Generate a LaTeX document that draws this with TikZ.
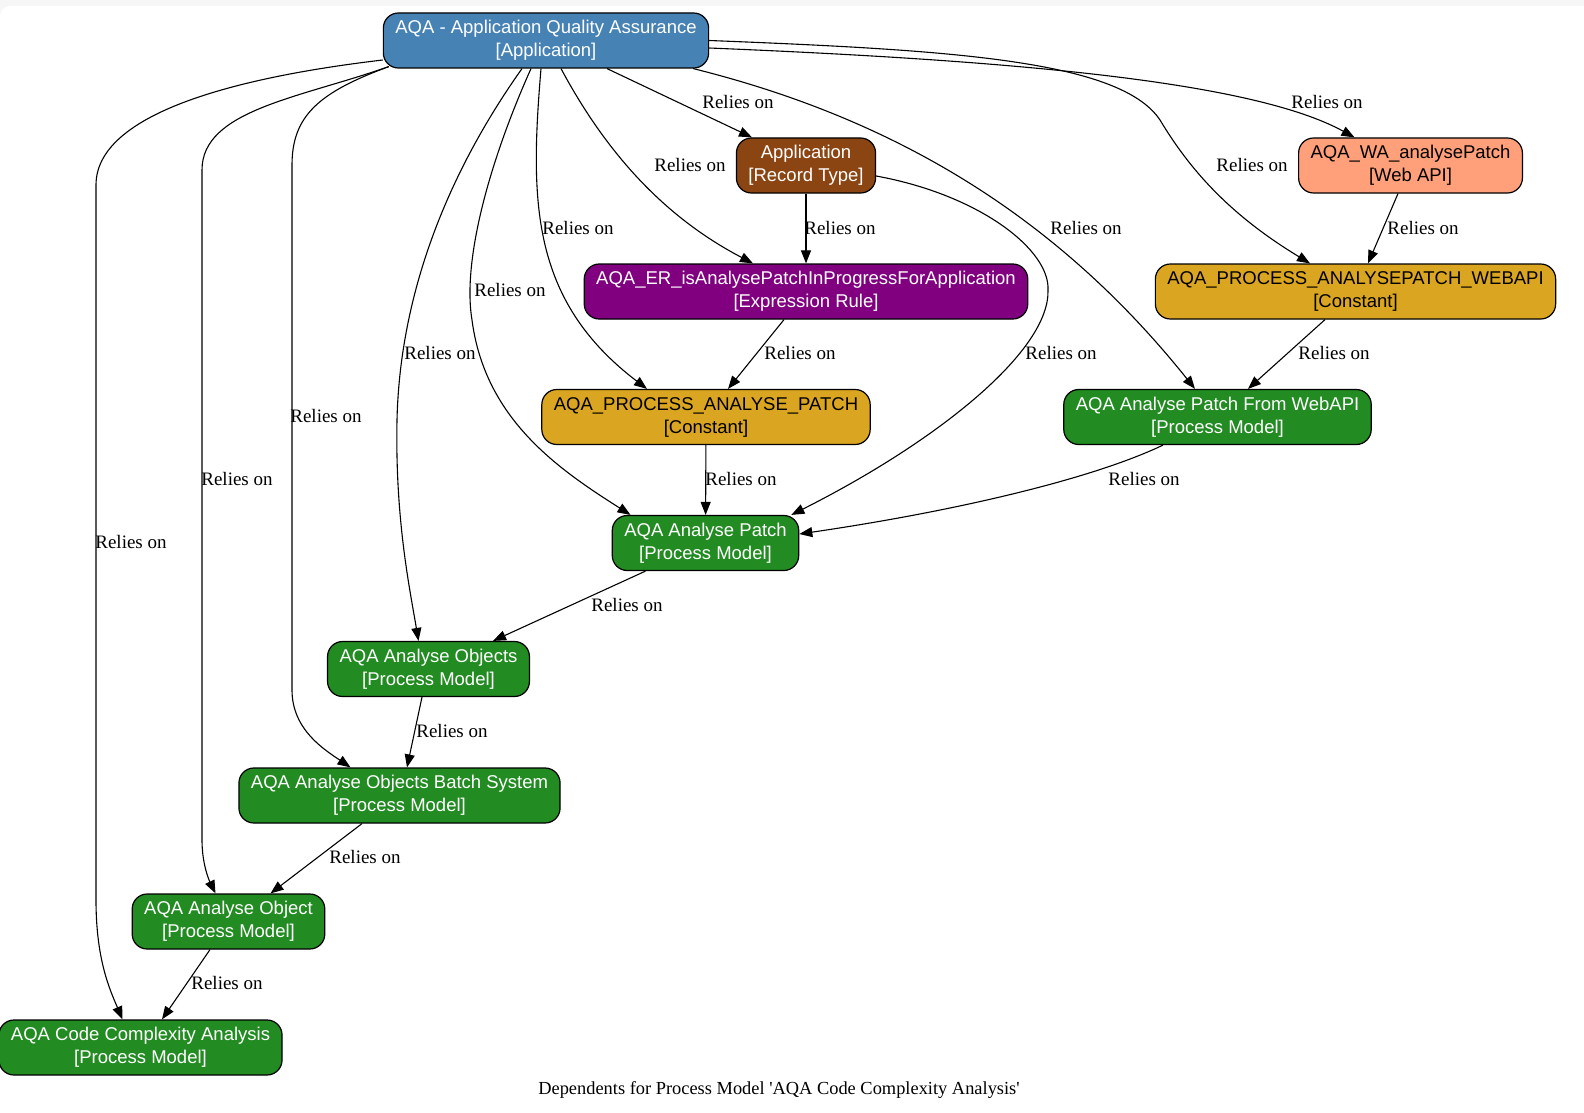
\documentclass[tikz,border=0pt]{standalone}
\usepackage{fontspec}
\setmainfont{Liberation Serif}
\setsansfont{Liberation Sans}
\usetikzlibrary{arrows.meta,calc}
\definecolor{steelblue}{RGB}{70,130,180}
\definecolor{saddlebrown}{RGB}{139,69,19}
\definecolor{lightsalmon}{RGB}{255,160,122}
\definecolor{rulepurple}{RGB}{128,0,128}
\definecolor{goldenrod}{RGB}{218,165,32}
\definecolor{forestgreen}{RGB}{34,139,34}
\tikzset{
  block/.style={draw=black, line width=0.6pt, rounded corners=7.5pt, minimum height=27.5pt,
                inner xsep=6pt, inner ysep=2pt, align=center, text=white,
                font=\sffamily\fontsize{9.25}{11.5}\selectfont},
  appl/.style={block, fill=steelblue},
  rectype/.style={block, fill=saddlebrown},
  webapi/.style={block, fill=lightsalmon, text=black},
  exprule/.style={block, fill=rulepurple},
  constant/.style={block, fill=goldenrod, text=black},
  procmodel/.style={block, fill=forestgreen},
  lbl/.style={font=\fontsize{9.5}{11}\selectfont, inner sep=1pt},
  arrow/.style={-{Triangle[length=6.5pt,width=5pt]}, line width=0.55pt}
}

\begin{document}
\begin{tikzpicture}[x=0.5pt,y=-0.5pt]
  \useasboundingbox (0,0) rectangle (1584,1113);
  \fill[gray!7] (0,0) rectangle (1584,1113);
  \fill[white, rounded corners=5pt] (0,6) rectangle (1610,1140);

  \node[appl] (aqa) at (546,40.5) {AQA - Application Quality Assurance\\{}[Application]};
  \node[rectype] (rec) at (806,165.5) {Application\\{}[Record Type]};
  \node[webapi] (wa) at (1410.5,165.5) {AQA\_WA\_analysePatch\\{}[Web API]};
  \node[exprule] (er) at (806,291.5) {AQA\_ER\_isAnalysePatchInProgressForApplication\\{}[Expression Rule]};
  \node[constant] (cwebapi) at (1355.5,291.5) {AQA\_PROCESS\_ANALYSEPATCH\_WEBAPI\\{}[Constant]};
  \node[constant] (cpatch) at (706,417) {AQA\_PROCESS\_ANALYSE\_PATCH\\{}[Constant]};
  \node[procmodel] (fromweb) at (1217.5,417) {AQA Analyse Patch From WebAPI\\{}[Process Model]};
  \node[procmodel] (patch) at (705.5,543) {AQA Analyse Patch\\{}[Process Model]};
  \node[procmodel] (objs) at (428.5,669) {AQA Analyse Objects\\{}[Process Model]};
  \node[procmodel] (batch) at (399.5,795.5) {AQA Analyse Objects Batch System\\{}[Process Model]};
  \node[procmodel] (obj) at (228.5,921.5) {AQA Analyse Object\\{}[Process Model]};
  \node[procmodel] (cca) at (140.5,1047.5) {AQA Code Complexity Analysis\\{}[Process Model]};

  \draw[arrow] ($(aqa.west)+(0,19.5)$) .. controls (230,78) and (96,115) .. (96,185) -- (96,900)
    .. controls (96,960) and (110,990) .. ($(cca.north)+(-18,0)$);
  \draw[arrow] ($(aqa.south west)+(6,-2)$) .. controls (300,98) and (202,110) .. (202,170) -- (202,840)
    .. controls (202,862) and (208,878) .. ($(obj.north)+(-13,0)$);
  \draw[arrow] ($(aqa.south west)+(6,-2)$) .. controls (320,92) and (292,115) .. (292,165) -- (292,690)
    .. controls (292,730) and (325,750) .. ($(batch.north)+(-49,0)$);
  \draw[arrow] ($(aqa.south)+(-24,0)$) .. controls (450,170) and (400,290) .. (397,420)
    .. controls (395,520) and (410,590) .. ($(objs.north)+(-10,0)$);
  \draw[arrow] ($(aqa.south)+(-15,0)$) .. controls (490,160) and (462,260) .. (472,320)
    .. controls (485,420) and (560,470) .. ($(patch.north)+(-75,0)$);
  \draw[arrow] ($(aqa.south)+(-5,0)$) .. controls (530,200) and (530,300) .. ($(cpatch.north)+(-59,0)$);
  \draw[arrow] ($(aqa.south)+(15,0)$) .. controls (610,160) and (670,220) .. ($(er.north)+(-53,0)$);
  \draw[arrow] ($(aqa.south)+(61,0)$) -- ($(rec.north)+(-54,0)$);
  \draw[arrow] ($(aqa.south east)+(-16,0)$) .. controls (900,120) and (1060,220) .. ($(fromweb.north)+(-22.5,0)$);
  \draw[arrow] (aqa.east) .. controls (950,50) and (1120,60) .. (1160,120)
    .. controls (1190,170) and (1230,215) .. ($(cwebapi.north)+(-45.5,0)$);
  \draw[arrow] ($(aqa.east)+(0,7.5)$) .. controls (1000,60) and (1250,80) .. ($(wa.north)+(-56,0)$);
  \draw[arrow] (rec) -- (er);
  \draw[arrow] ($(rec.east)+(0,10.5)$) .. controls (980,195) and (1050,250) .. (1048,290)
    .. controls (1050,350) and (940,440) .. ($(patch.north east)+(-8,0)$);
  \draw[arrow] ($(wa.south)+(-12.5,0)$) -- ($(cwebapi.north)+(12.5,0)$);
  \draw[arrow] ($(er.south)+(-22,0)$) -- ($(cpatch.north)+(22,0)$);
  \draw[arrow] ($(cwebapi.south)+(-30.5,0)$) -- ($(fromweb.north)+(30.5,0)$);
  \draw[arrow] (cpatch) -- (patch);
  \draw[arrow] ($(fromweb.south)+(-54.5,0)$) .. controls (1090,480) and (950,512) .. ($(patch.east)+(0,-9)$);
  \draw[arrow] ($(patch.south)+(-60,0)$) -- ($(objs.north)+(64.5,0)$);
  \draw[arrow] ($(objs.south)+(-6.5,0)$) -- ($(batch.north)+(7.5,0)$);
  \draw[arrow] ($(batch.south)+(-37.5,0)$) -- ($(obj.north)+(42,0)$);
  \draw[arrow] ($(obj.south)+(-18.5,0)$) -- ($(cca.north)+(21.5,0)$);

  \foreach \px/\py [count=\i] in {738/102, 690/165, 1327/102, 1252/165, 840/228, 578/228,
      1086/228, 1423/228, 510/290, 800/353, 1061/353, 1334/353, 440/353, 326/416,
      741/479, 1144/479, 237/479, 131/542, 627/605, 452/731, 365/857, 227/983}
    \node[lbl] (rel\i) at (\px,\py) {Relies on};

  \node[lbl, font=\fontsize{9.2}{11}\selectfont] (title) at (779,1090)
    {Dependents for Process Model \textquotesingle AQA Code Complexity Analysis\textquotesingle};
\end{tikzpicture}
\end{document}
